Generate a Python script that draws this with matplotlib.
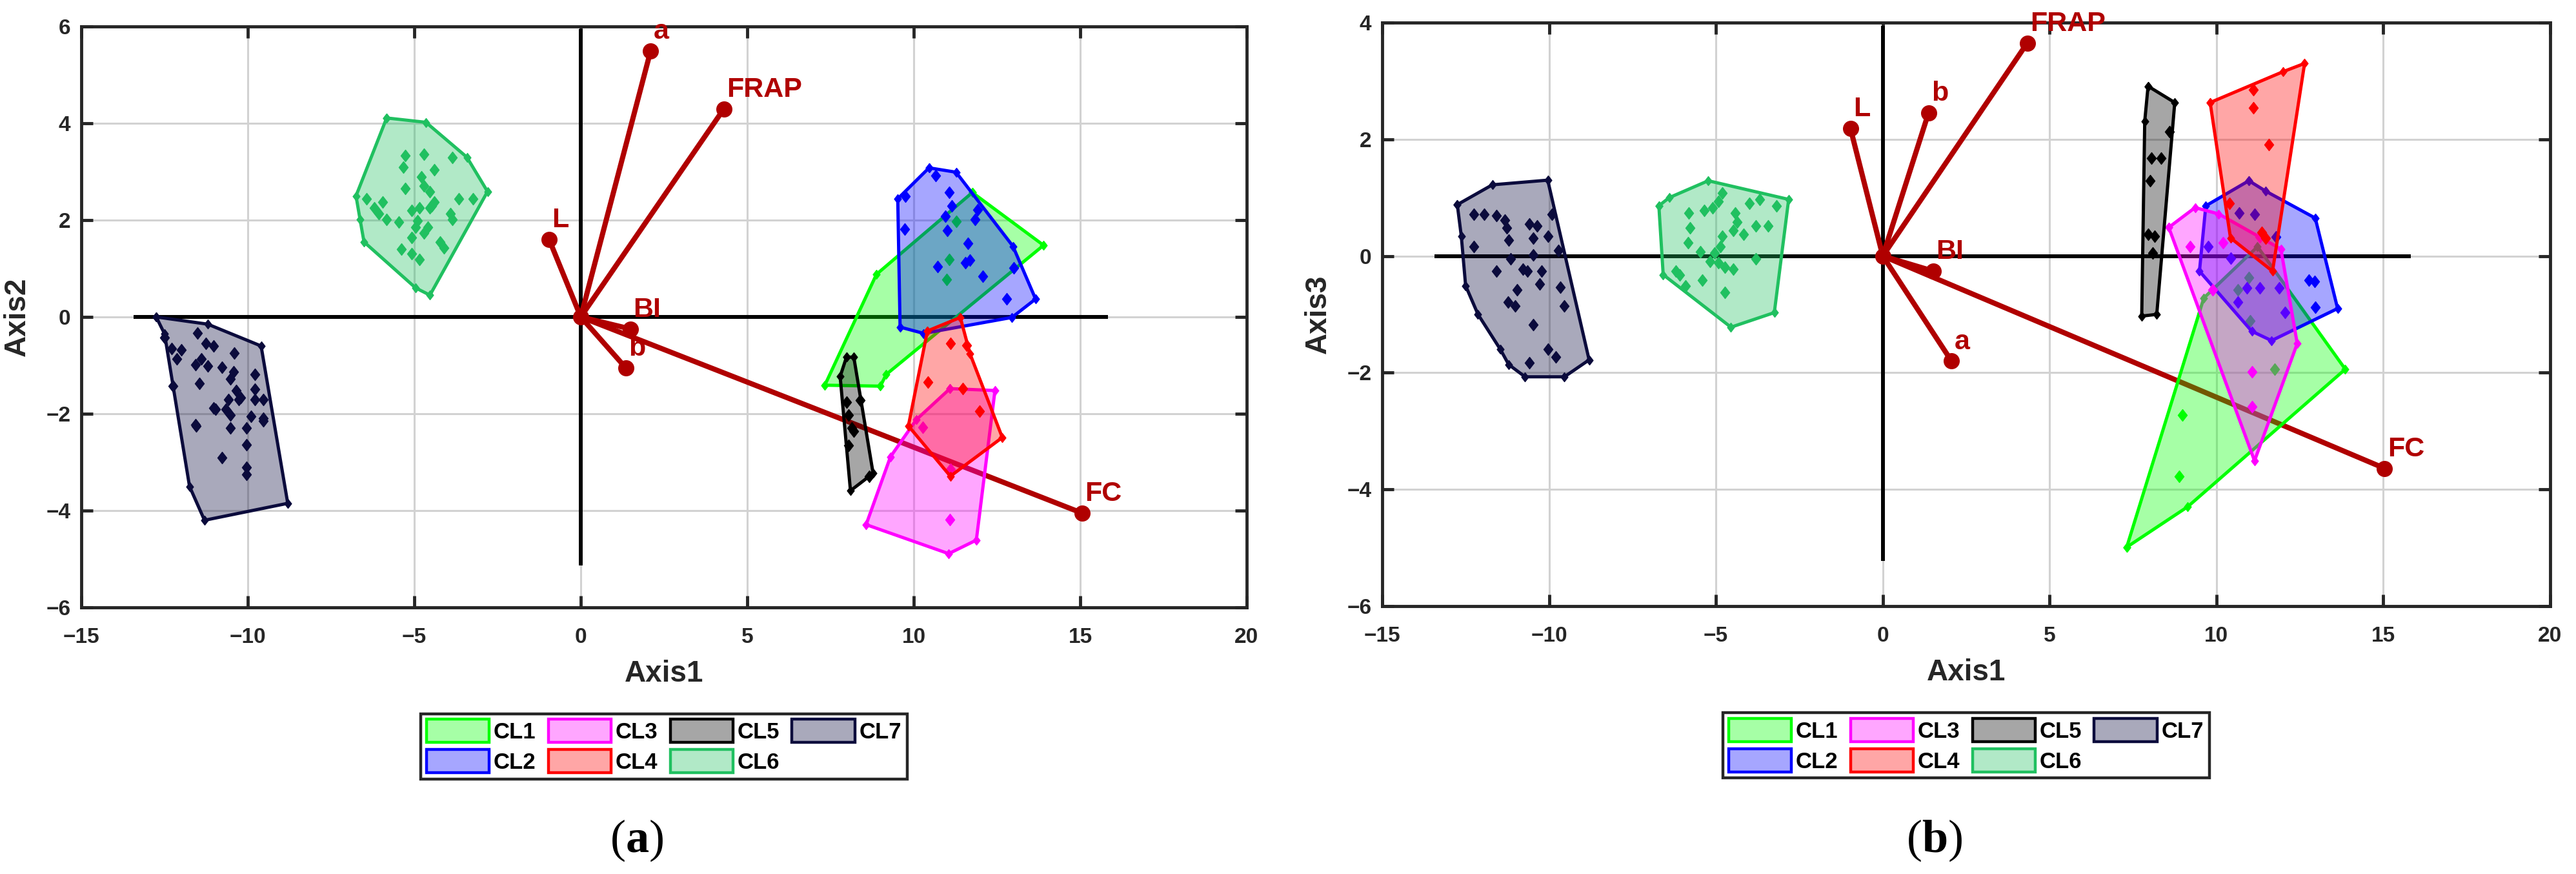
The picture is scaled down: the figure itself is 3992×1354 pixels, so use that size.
import matplotlib
matplotlib.use("Agg")
import matplotlib.pyplot as plt
from matplotlib.patches import Polygon, Patch
from matplotlib.path import Path
from matplotlib.colors import to_rgba

plt.rcParams['font.family'] = ['Liberation Sans', 'DejaVu Sans']
plt.rcParams['mathtext.fontset'] = 'custom'
plt.rcParams['mathtext.rm'] = 'Liberation Serif'
plt.rcParams['mathtext.bf'] = 'Liberation Serif:bold'

# ── cluster styles ──────────────────────────────────────────────────────────
clusters = ['CL1', 'CL2', 'CL3', 'CL4', 'CL5', 'CL6', 'CL7']
edge_cols = ['#00FF00', '#0000FF', '#FF00FF', '#FF0000', '#000000', '#20C060', '#0B0B3C']
FACE_ALPHA = 0.35
VEC_COL = '#B00000'
TXT_COL = '#262626'

# ── loading vectors (variable, axis1, axis2 / axis3) ───────────────────────
vec_names = ['a', 'FRAP', 'L', 'BI', 'b', 'FC']
vec_x_a = [2.1, 4.3, -0.95, 1.5, 1.35, 15.05]
vec_y_a = [5.5, 4.3, 1.6, -0.25, -1.05, -4.05]
vec_x_b = [2.06, 4.33, -0.97, 1.52, 1.37, 15.04]
vec_y_b = [-1.8, 3.65, 2.19, -0.26, 2.45, -3.64]

# ── panel (a): Axis1 vs Axis2, hull vertices ───────────────────────────────
hulls_a = {
    'CL1': [(11.76, 2.57), (13.9, 1.48), (9.17, -1.19), (9.0, -1.43), (7.33, -1.41), (8.88, 0.88)],
    'CL2': [(10.46, 3.08), (11.27, 2.99), (12.98, 1.46), (13.66, 0.37), (12.95, -0.01),
            (10.30, -0.34), (9.59, -0.21), (9.52, 2.44)],
    'CL3': [(11.09, -1.48), (12.44, -1.52), (11.88, -4.61), (11.05, -4.89), (8.57, -4.29),
            (9.30, -2.89), (10.08, -2.12)],
    'CL4': [(10.41, -0.29), (11.40, -0.01), (11.69, -0.76), (12.66, -2.49), (11.10, -3.29),
            (9.84, -2.25)],
    'CL5': [(7.98, -0.83), (8.2, -0.83), (8.78, -3.23), (8.10, -3.59), (7.79, -1.23)],
    'CL6': [(-5.83, 4.11), (-4.65, 4.02), (-3.42, 3.30), (-2.80, 2.59), (-4.53, 0.45),
            (-4.96, 0.60), (-6.51, 1.55), (-6.63, 2.02), (-6.75, 2.5)],
    'CL7': [(-12.75, 0.0), (-11.2, -0.15), (-9.6, -0.6), (-8.8, -3.85), (-11.3, -4.2),
            (-11.75, -3.5), (-12.5, -0.35)],
}

# panel (a) interior points
points_a = {
    'CL1': [(11.27, 1.97), (11.07, 1.19), (10.98, 0.77)],
    'CL2': [(10.65, 2.92), (11.07, 2.57), (11.14, 2.30), (10.95, 2.08), (11.85, 2.01),
            (11.91, 2.21), (9.72, 1.81), (11.01, 1.79), (11.62, 1.52), (11.56, 1.12),
            (11.69, 1.17), (10.72, 1.04), (12.08, 0.84), (13.01, 1.01), (12.79, 0.37),
            (9.75, 2.50)],
    'CL3': [(10.27, -2.28), (11.09, -4.19), (11.1, -3.15)],
    'CL4': [(11.10, -0.55), (11.59, -0.59), (10.43, -1.35), (11.47, -1.48), (11.98, -1.95)],
    'CL5': [(8.39, -1.72), (7.98, -1.76), (8.04, -2.03), (8.14, -2.29), (8.2, -2.36),
            (8.04, -2.65), (8.66, -3.29)],
    'CL6': [(-5.27, 3.33), (-4.71, 3.36), (-5.33, 3.10), (-3.85, 3.29), (-4.40, 3.04),
            (-4.78, 2.89), (-5.27, 2.65), (-4.71, 2.71), (-4.53, 2.59), (-4.40, 2.38),
            (-3.66, 2.44), (-3.23, 2.44), (-6.44, 2.44), (-6.20, 2.26), (-5.95, 2.38),
            (-6.07, 2.14), (-5.83, 2.02), (-5.46, 1.96), (-5.08, 2.20), (-4.84, 2.26),
            (-4.90, 1.99), (-4.96, 1.85), (-4.59, 1.85), (-5.08, 1.64), (-4.71, 1.73),
            (-4.47, 2.29), (-3.91, 2.14), (-3.85, 2.02), (-5.39, 1.40), (-5.08, 1.31),
            (-4.84, 1.19), (-4.22, 1.55), (-4.10, 1.43), (-4.53, 2.26)],
    'CL7': [(-12.50, -0.42), (-12.28, -0.65), (-12.0, -0.68), (-12.13, -0.86), (-11.51, -0.33),
            (-11.26, -0.54), (-11.02, -0.60), (-11.57, -0.98), (-11.39, -0.86), (-11.20, -1.01),
            (-10.77, -1.04), (-10.40, -0.74), (-10.42, -1.13), (-10.52, -1.28), (-10.34, -1.52),
            (-10.58, -1.70), (-10.21, -1.67), (-9.78, -1.19), (-9.78, -1.49), (-9.53, -1.70),
            (-12.25, -1.43), (-11.45, -1.37), (-11.02, -1.88), (-10.65, -1.90), (-10.52, -2.02),
            (-9.90, -2.05), (-9.53, -2.14), (-11.57, -2.23), (-10.03, -2.29), (-11.56, -2.25),
            (-10.77, -2.9), (-10.03, -2.64), (-10.03, -3.1), (-10.03, -3.25), (-9.53, -2.09),
            (-10.52, -2.29), (-10.97, -1.9), (-10.27, -1.71), (-9.78, -1.71)],
}

# ── panel (b): Axis1 vs Axis3 ──────────────────────────────────────────────
hulls_b = {
    'CL1': [(7.31, -4.99), (9.13, -4.30), (13.86, -1.94), (11.23, 0.16), (9.62, -0.72)],
    'CL2': [(10.97, 1.29), (11.48, 1.11), (12.96, 0.65), (13.63, -0.90), (11.65, -1.45),
            (11.06, -1.29), (9.49, -0.26), (9.68, 0.86)],
    'CL3': [(8.57, 0.49), (9.36, 0.83), (10.07, 0.72), (11.93, 0.12), (12.42, -1.50),
            (11.14, -3.51)],
    'CL4': [(9.81, 2.63), (12.0, 3.16), (12.64, 3.30), (11.68, -0.26), (10.42, 0.31)],
    'CL5': [(7.95, 2.91), (8.75, 2.63), (8.21, -1.0), (7.76, -1.03), (7.85, 2.31)],
    'CL6': [(-6.71, 0.86), (-6.40, 1.0), (-5.23, 1.29), (-2.82, 0.97), (-3.25, -0.97),
            (-4.55, -1.22), (-6.58, -0.32)],
    'CL7': [(-12.75, 0.88), (-11.70, 1.22), (-10.04, 1.30), (-8.80, -1.78), (-9.54, -2.07),
            (-10.72, -2.07), (-11.21, -1.86), (-11.46, -1.60), (-12.13, -1.0), (-12.50, -0.51),
            (-12.63, 0.34)],
}

points_b = {
    'CL1': [(8.98, -2.73), (8.89, -3.78), (11.74, -1.94), (10.97, -0.37), (10.65, -0.58),
            (11.01, -1.11)],
    'CL2': [(10.67, 0.74), (11.14, 0.71), (9.75, 0.16), (10.42, -0.04), (10.91, -0.55),
            (11.29, -0.55), (10.65, -0.79), (11.87, -0.55), (12.77, -0.41), (12.94, -0.44),
            (12.96, -0.88), (12.06, -0.97), (11.78, 0.33)],
    'CL3': [(9.21, 0.16), (9.88, -0.58), (10.20, 0.23), (11.06, -1.99), (11.06, -2.58),
            (11.29, 0.33)],
    'CL4': [(11.10, 2.85), (11.10, 2.54), (11.57, 1.91), (10.39, 0.90), (11.36, 0.41),
            (11.48, 0.30)],
    'CL5': [(8.59, 2.13), (8.05, 1.68), (8.34, 1.68), (8.01, 1.29), (7.95, 0.37),
            (8.14, 0.34), (8.08, 0.05)],
    'CL6': [(-5.81, 0.74), (-5.35, 0.78), (-5.10, 0.83), (-4.80, 1.08), (-4.92, 0.94),
            (-4.43, 0.74), (-4.37, 0.58), (-3.99, 0.90), (-3.69, 0.97), (-3.19, 0.86),
            (-3.81, 0.51), (-3.44, 0.51), (-4.18, 0.37), (-4.49, 0.44), (-4.80, 0.34),
            (-4.86, 0.16), (-5.04, 0.05), (-5.78, 0.48), (-5.84, 0.23), (-5.47, 0.07),
            (-5.17, -0.09), (-4.92, -0.12), (-4.73, -0.19), (-4.49, -0.23), (-3.81, -0.05),
            (-6.21, -0.26), (-6.09, -0.32), (-5.91, -0.51), (-5.41, -0.41), (-4.73, -0.62)],
    'CL7': [(-12.26, 0.71), (-11.95, 0.72), (-11.58, 0.69), (-11.33, 0.62), (-11.27, 0.48),
            (-11.21, 0.27), (-10.59, 0.55), (-10.35, 0.51), (-10.47, 0.30), (-10.04, 0.34),
            (-9.91, 0.72), (-12.26, 0.16), (-11.58, -0.26), (-11.15, -0.05), (-10.47, 0.02),
            (-9.73, 0.09), (-10.78, -0.23), (-10.65, -0.26), (-10.22, -0.26), (-10.28, -0.48),
            (-10.96, -0.58), (-9.67, -0.53), (-11.23, -0.79), (-11.02, -0.86), (-9.54, -0.86),
            (-10.47, -1.18), (-10.04, -1.60), (-9.79, -1.73), (-10.59, -1.83)],
}

diamond = Path([(0, 1), (0.78, 0), (0, -1), (-0.78, 0), (0, 1)],
               [Path.MOVETO, Path.LINETO, Path.LINETO, Path.LINETO, Path.CLOSEPOLY])


def draw_panel(ax, hulls, points, vx, vy, ylim, yticks, ylabel, vline, hline):
    ax.set_xlim(-15, 20)
    ax.set_ylim(*ylim)
    ax.set_xticks(range(-15, 21, 5))
    ax.set_yticks(yticks)
    ax.grid(True, color='#d2d2d2', lw=2.2, zorder=0)
    ax.set_axisbelow(True)

    # origin cross
    ax.plot(hline, [0, 0], color='black', lw=4.3, zorder=1, solid_capstyle='butt')
    ax.plot([0, 0], vline, color='black', lw=4.3, zorder=1, solid_capstyle='butt')

    # loading vectors
    for name, x, y in zip(vec_names, vx, vy):
        ax.plot([0, x], [0, y], color=VEC_COL, lw=5.8, zorder=2)
        ax.plot(x, y, 'o', color=VEC_COL, ms=17, zorder=2)
        ax.annotate(name, (x, y), xytext=(3, 7), textcoords='offset points',
                    ha='left', va='bottom', color=VEC_COL, fontsize=31,
                    fontweight='bold', zorder=10)
    ax.plot(0, 0, 'o', color=VEC_COL, ms=17, zorder=2)

    # cluster hulls and members
    for i, cl in enumerate(clusters):
        col = edge_cols[i]
        hx = [p[0] for p in hulls[cl]]
        hy = [p[1] for p in hulls[cl]]
        ax.add_patch(Polygon(list(zip(hx, hy)), closed=True,
                             facecolor=to_rgba(col, FACE_ALPHA), edgecolor='none',
                             zorder=3 + i))
        ax.plot(hx + hx[:1], hy + hy[:1], '-', color=col, lw=3.6, marker=diamond,
                ms=10, zorder=3 + i)
        px = [p[0] for p in points[cl]]
        py = [p[1] for p in points[cl]]
        ax.plot(px, py, linestyle='none', marker=diamond, ms=13, color=col,
                zorder=3 + i)

    for s in ax.spines.values():
        s.set_linewidth(3.5)
        s.set_color(TXT_COL)
    ax.tick_params(direction='in', length=13, width=3.5, color=TXT_COL,
                   top=True, right=True, labelsize=24, labelcolor=TXT_COL)
    ax.tick_params(axis='x', pad=22)
    ax.tick_params(axis='y', pad=12)
    for lab in ax.get_xticklabels() + ax.get_yticklabels():
        lab.set_fontweight('bold')
    ax.set_xlabel('Axis1', fontsize=33, fontweight='bold', color=TXT_COL, labelpad=14)
    ax.set_ylabel(ylabel, fontsize=33, fontweight='bold', color=TXT_COL, labelpad=16)

    handles = [Patch(facecolor=to_rgba(c, FACE_ALPHA), edgecolor=c, lw=3.2, label=cl)
               for cl, c in zip(clusters, edge_cols)]
    leg = ax.legend(handles=handles, ncol=4, loc='upper center',
                    bbox_to_anchor=(0.5, -0.183), borderaxespad=0,
                    prop={'size': 25, 'weight': 'bold'}, handlelength=2.8,
                    handleheight=1.2, handletextpad=0.2, columnspacing=0.55,
                    labelspacing=0.3, borderpad=0.25, fancybox=False, framealpha=1)
    leg.get_frame().set_edgecolor(TXT_COL)
    leg.get_frame().set_linewidth(3.2)


W, H = 3992, 1354
fig = plt.figure(figsize=(W / 100, H / 100), dpi=100)
ax_a = fig.add_axes([126 / W, 1 - 941 / H, 1806 / W, 900 / H])
ax_b = fig.add_axes([2142 / W, 1 - 939 / H, 1810 / W, 904 / H])

draw_panel(ax_a, hulls_a, points_a, vec_x_a, vec_y_a, (-6, 6), range(-6, 7, 2),
           'Axis2', [-5.13, 5.95], [-13.43, 15.83])
draw_panel(ax_b, hulls_b, points_b, vec_x_b, vec_y_b, (-6, 4), range(-6, 5, 2),
           'Axis3', [-5.23, 3.94], [-13.44, 15.83])

fig.text(987 / W, 1 - 1302 / H, r'($\mathbf{a}$)', ha='center', va='center',
         fontsize=52, family='Liberation Serif')
fig.text(2998 / W, 1 - 1302 / H, r'($\mathbf{b}$)', ha='center', va='center',
         fontsize=52, family='Liberation Serif')

fig.savefig('out.png', dpi=100)
